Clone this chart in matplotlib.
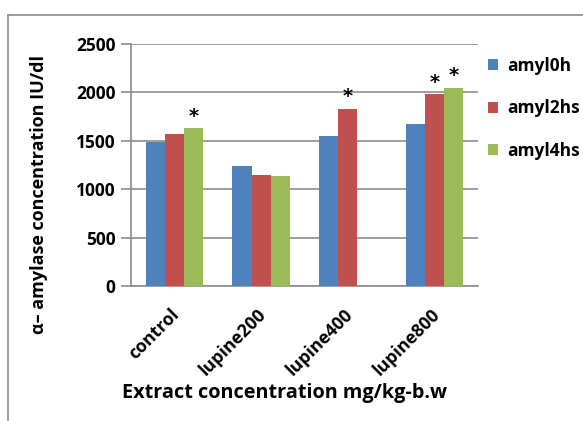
import matplotlib
matplotlib.use("Agg")
import matplotlib.pyplot as plt
import matplotlib.transforms as mtransforms
import numpy as np
from matplotlib.lines import Line2D

categories = ["control", "lupine200", "lupine400", "lupine800"]
series_names = ["amyl0h", "amyl2hs", "amyl4hs"]
amyl0h = [1484, 1236, 1553, 1674]
amyl2hs = [1567, 1147, 1829, 1980]
amyl4hs = [1629, 1133, 0, 2049]
# asterisks: (category index, series index)
stars = [(0, 2), (2, 1), (3, 1), (3, 2)]
yticks = [0, 500, 1000, 1500, 2000, 2500]

colors = ["#4F81BD", "#C0504D", "#9BBB59"]
grid_c = "#8C8C8C"
FONT = ["Open Sans", "DejaVu Sans"]
plt.rcParams['font.family'] = FONT

W, H = 583, 421
fig = plt.figure(figsize=(W / 100, H / 100), dpi=100)
ax = fig.add_axes([131 / W, 1 - 286 / H, (478 - 131) / W, (286 - 44) / H])

data = [amyl0h, amyl2hs, amyl4hs]
x = np.arange(len(categories))
bw = 0.2216
bars = []
for i, vals in enumerate(data):
    b = ax.bar(x + (i - 1) * bw, vals, width=bw, color=colors[i], zorder=3,
               linewidth=0, label=series_names[i])
    bars.append(b)

for ci, si in stars:
    v = data[si][ci]
    ax.text(x[ci] + (si - 1) * bw, v + 125, "*", ha="center", va="center",
            fontsize=14, fontweight="bold", color="black", zorder=4,
            family=["DejaVu Sans"])

ax.set_xlim(-0.5, len(categories) - 0.5)
ax.set_ylim(0, 2500)
ax.set_yticks(yticks)
ax.set_yticklabels([str(t) for t in yticks], fontsize=12.5, fontweight="bold")
ax.yaxis.grid(True, color=grid_c, linewidth=1.2, zorder=0)
ax.set_axisbelow(True)
ax.tick_params(axis="y", length=7, width=1.2, color=grid_c, pad=4)
ax.tick_params(axis="x", length=0, pad=14)
ax.set_xticks(x)
ax.set_xticklabels(categories, rotation=45, ha="right", va="top",
                   rotation_mode="anchor", fontsize=12.8, fontweight="bold")
offset = mtransforms.ScaledTranslation(-4 / 100, 0, fig.dpi_scale_trans)
for lbl in ax.get_xticklabels():
    lbl.set_transform(lbl.get_transform() + offset)
for s in ["top", "right"]:
    ax.spines[s].set_visible(False)
for s in ["left", "bottom"]:
    ax.spines[s].set_color(grid_c)
    ax.spines[s].set_linewidth(1.2)

fig.text(39 / W, 1 - 195 / H, "α– amylase concentration IU/dl", rotation=90,
         ha="center", va="center", fontsize=13, fontweight="bold")
fig.text(285 / W, 1 - 393 / H, "Extract concentration mg/kg-b.w",
         ha="center", va="center", fontsize=14.3, fontweight="bold")

leg = fig.legend(handles=bars, labels=series_names, loc="upper left",
                 bbox_to_anchor=(481 / W, 1 - 50 / H), frameon=False,
                 prop={"weight": "bold", "size": 12.5},
                 handlelength=0.6, handleheight=0.6, handletextpad=0.5,
                 labelspacing=1.4, borderaxespad=0)

# outer frame (partial border as in reference)
fig.add_artist(Line2D([7.5 / W, 7.5 / W], [0, 1 - 15 / H], transform=fig.transFigure,
                      color=grid_c, linewidth=1.2))
fig.add_artist(Line2D([7.5 / W, 1], [1 - 15 / H, 1 - 15 / H], transform=fig.transFigure,
                      color=grid_c, linewidth=1.2))

fig.savefig("out.png", dpi=100)
